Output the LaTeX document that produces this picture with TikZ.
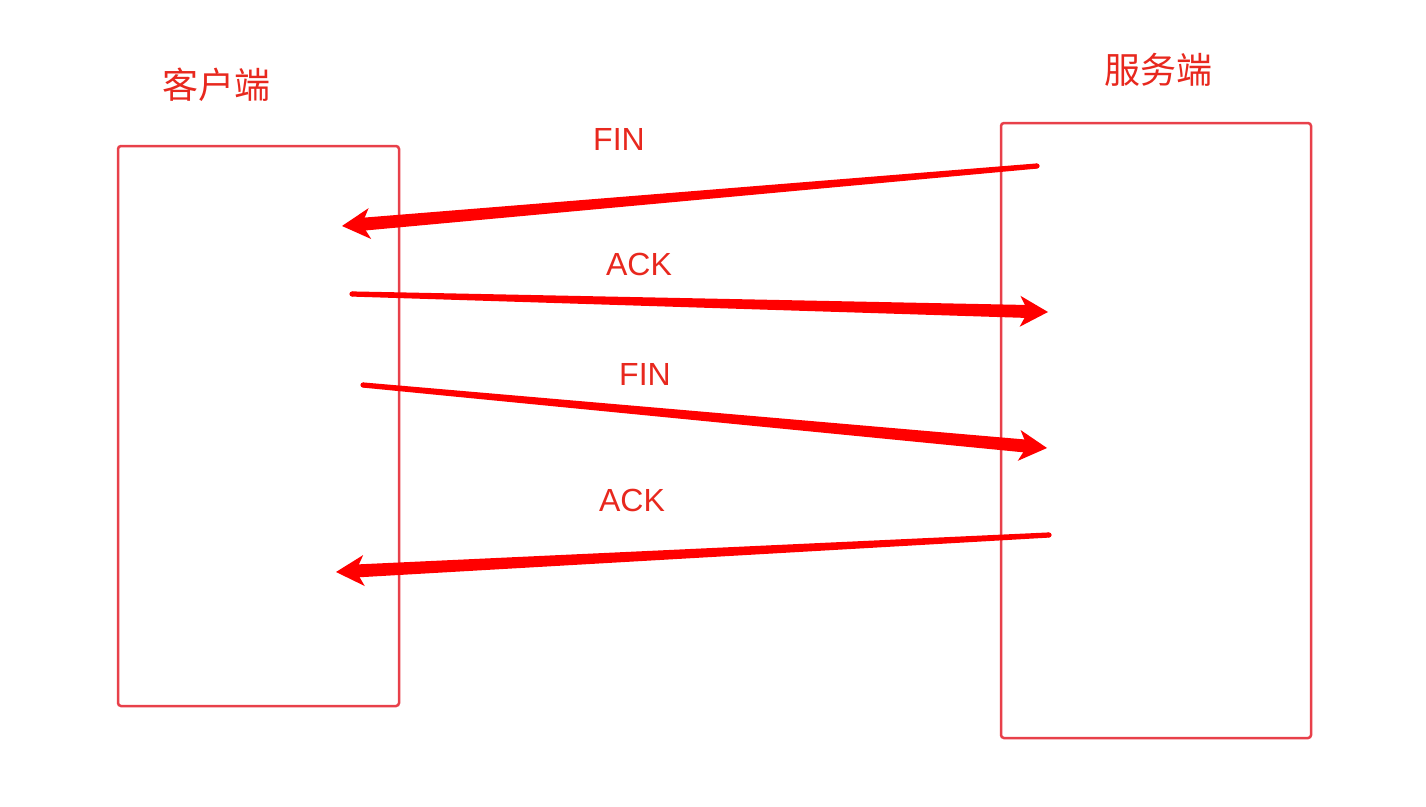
\documentclass[tikz,border=0pt]{standalone}
\usepackage{fontspec}
\setmainfont{Liberation Sans}
\newfontfamily\cjk{Noto Sans CJK SC}
\usetikzlibrary{calc}
\definecolor{boxred}{HTML}{E8404A}
\definecolor{txtred}{HTML}{E8281E}
\definecolor{arrred}{HTML}{FF0000}
\tikzset{
  side/.style={draw=boxred, line width=2.5pt, rounded corners=3pt},
  lbl/.style={text=txtred, font=\fontsize{32}{36}\selectfont, inner sep=0pt},
  cjklbl/.style={text=txtred, font=\cjk\fontsize{36}{40}\selectfont, inner sep=0pt},
}
\newcommand{\taperarrow}[2]{%
  \fill[arrred] ($(#1)!2.6pt!90:(#2)$) -- ($($(#2)!18pt!(#1)$)!6.5pt!90:(#2)$)
     -- ($($(#2)!18pt!(#1)$)!6.5pt!-90:(#2)$) -- ($(#1)!2.6pt!-90:(#2)$) -- cycle;
  \fill[arrred] (#1) circle (2.6pt);
  \fill[arrred] (#2) -- ($($(#2)!28pt!(#1)$)!15.5pt!90:(#2)$) -- ($(#2)!20pt!(#1)$)
     -- ($($(#2)!28pt!(#1)$)!15.5pt!-90:(#2)$) -- cycle;
}
\begin{document}
\begin{tikzpicture}[x=1pt,y=-1pt]
\useasboundingbox[fill=white] (0,0) rectangle (1426,806);
\draw[side] (118,146) rectangle (399,706);
\draw[side] (1001,123) rectangle (1311,738);
\node[cjklbl] (client) at (216,85) {客户端};
\node[cjklbl] (server) at (1158,70) {服务端};
\node[lbl] (fin1) at (619,139) {FIN};
\node[lbl] (ack1) at (639,264) {ACK};
\node[lbl] (fin2) at (645,374) {FIN};
\node[lbl] (ack2) at (632,500) {ACK};
\coordinate (t1) at (1037,166); \coordinate (h1) at (342,226);
\coordinate (t2) at (352,294);  \coordinate (h2) at (1048,312);
\coordinate (t3) at (363,385);  \coordinate (h3) at (1047,448);
\coordinate (t4) at (1049,535); \coordinate (h4) at (336,572);
\taperarrow{t1}{h1}
\taperarrow{t2}{h2}
\taperarrow{t3}{h3}
\taperarrow{t4}{h4}
\end{tikzpicture}
\end{document}
